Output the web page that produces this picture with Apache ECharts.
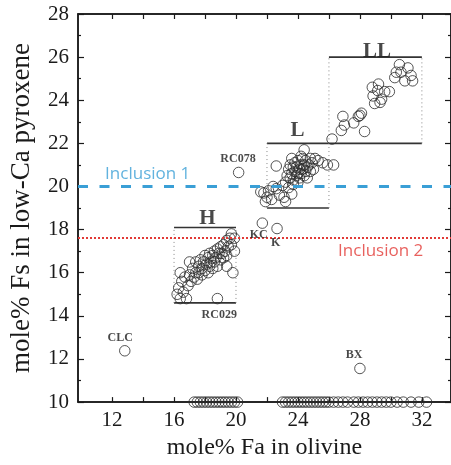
<!DOCTYPE html>
<html><head><meta charset="utf-8">
<script src="https://cdn.jsdelivr.net/npm/echarts@6/dist/echarts.min.js"></script>
<style>html,body{margin:0;padding:0;background:#fff}#c{width:451px;height:465px}</style>
</head><body><div id="c"></div>
<script>
// ---- data (mole% Fa in olivine, mole% Fs in low-Ca pyroxene) ----
const hPoints = [
 [16.2,15.0],[16.4,14.8],[16.3,15.3],[16.5,15.6],[16.6,15.1],[16.8,14.8],[16.9,15.4],[16.7,15.8],
 [17.0,15.9],[17.1,15.6],[17.2,16.2],[17.3,15.8],[17.4,16.0],[17.4,16.5],[17.5,15.7],[17.6,16.3],
 [17.6,16.0],[17.7,16.6],[17.8,16.2],[17.8,15.9],[17.9,16.5],[18.0,16.8],[18.0,16.1],[18.1,16.4],
 [18.2,16.7],[18.2,16.0],[18.3,16.3],[18.3,16.9],[18.4,16.5],[18.5,16.2],[18.5,16.8],[18.6,17.0],
 [18.6,16.5],[18.7,16.7],[18.8,16.3],[18.8,17.1],[18.9,16.9],[19.0,16.6],[19.0,17.2],[19.1,16.9],
 [19.2,17.3],[19.2,16.7],[19.3,17.0],[19.4,17.5],[19.4,16.8],[19.5,17.2],[19.6,17.6],[19.7,17.3],
 [19.7,17.8],[19.9,17.6],[19.9,17.0],[19.8,16.0],[19.4,16.3],[18.8,14.8],[16.4,16.0],[17.0,16.5]
];
const lPoints = [
 [22.6,20.95],
 [23.3,20.5],[23.4,20.8],[23.5,20.4],[23.5,21.0],[23.6,20.6],[23.7,20.9],[23.7,20.3],[23.8,20.7],
 [23.8,21.1],[23.9,20.5],[23.9,20.9],[24.0,20.6],[24.0,21.2],[24.1,20.8],[24.1,20.4],[24.2,21.0],
 [24.2,20.6],[24.3,20.8],[24.3,21.3],[24.4,20.5],[24.4,21.0],[24.5,20.7],[24.5,21.2],[24.6,20.9],
 [24.6,20.4],[24.7,21.0],[24.8,20.7],[24.8,21.3],[23.6,21.3],[24.0,20.2],[24.2,21.4],[24.4,21.7],
 [24.9,21.1],[25.0,20.8],[23.2,20.2],
 [25.3,21.2],[25.6,21.1],[25.9,21.0],[26.3,21.0],[25.1,21.3],
 [21.6,19.75],[21.8,19.7],[22.1,19.8],[22.0,19.5],[21.9,19.3],[22.4,20.0],[22.6,19.9],[23.0,20.05],
 [23.4,19.95],[23.7,20.1],[23.1,19.5],[23.2,19.3],[23.6,19.65],[22.8,19.6],[22.3,19.4]
];
const llPoints = [
 [26.2,22.2],[26.8,22.6],[27.0,22.85],[26.9,23.25],[27.6,22.95],[27.9,23.25],[28.0,23.3],[28.1,23.4],
 [28.3,22.55],[28.85,24.2],[28.8,24.6],[29.2,24.75],[29.15,24.45],[29.4,24.05],[29.6,24.4],[29.9,24.4],
 [28.95,23.85],[29.3,23.9],[30.55,25.65],[30.65,25.3],[30.35,25.3],[31.1,25.5],[31.3,25.15],[31.4,24.9],
 [30.9,24.9],[30.25,25.05]
];
const otherPoints = [[20.17,20.65],[21.7,18.3],[22.65,18.05],[12.82,12.38],[28.0,11.56]];
// olivine-only analyses plotted on the 10% baseline
const baselineFa = [17.3,17.5,17.7,17.9,18.1,18.3,18.5,18.7,18.9,19.1,19.3,19.5,19.7,19.9,20.1,
 23.0,23.2,23.4,23.6,23.8,24.0,24.2,24.4,24.6,24.8,25.0,25.2,25.4,25.6,25.8,26.0,26.3,26.6,26.9,
 27.2,27.6,27.9,28.2,28.5,28.8,29.1,29.4,29.7,30.0,30.4,30.8,31.3,31.8,32.3];
const baselineFs = 10;

// group boxes: [name, faMin, faMax, fsMin, fsMax]
const boxes = [['H',16,20,14.6,18.1],['L',22,26,19,22],['LL',26,32,22,26]];
const groupLabels = [['H',18.15,18.5],['L',23.97,22.6],['LL',29.1,26.25]];
const sampleLabels = [['RC078',20.13,21.3],['KC',21.47,17.77],['K',22.56,17.4],['RC029',18.92,14.03],['CLC',12.52,12.98],['BX',27.62,12.18]];
const inclusionLevels = [['Inclusion 1',20.0,14.3,20.56],['Inclusion 2',17.6,29.34,17.02]];

const xTicks = [12,14,16,18,20,22,24,26,28,30,32];
const xTickLabels = [12,16,20,24,28,32];
const yMin = 10, yMax = 28, yStep = 2;

// ---- chart ----
const serif = '"Liberation Serif", "Times New Roman", serif';
const ink = '#1a1a1a';
const circle = {symbol:'circle', symbolSize:10.5, itemStyle:{color:'rgba(0,0,0,0)', borderColor:'#2a2a2a', borderWidth:1}};
const series = [];

boxes.forEach(b => {
  const [n,x0,x1,y0,y1] = b;
  [[[x0,y1],[x1,y1]],[[x0,y0],[x1,y0]]].forEach(seg => series.push({type:'line', data:seg, symbol:'none', silent:true,
     lineStyle:{color:'#333', width:1.6}, z:2}));
  [[[x0,y0],[x0,y1]],[[x1,y0],[x1,y1]]].forEach(seg => series.push({type:'line', data:seg, symbol:'none', silent:true,
     lineStyle:{color:'#888', width:1, type:[1,3]}, z:2}));
});

series.push(Object.assign({type:'scatter', data:hPoints.concat(lPoints, llPoints, otherPoints), z:3}, circle));
series.push(Object.assign({type:'scatter', data:baselineFa.map(x=>[x,baselineFs]), clip:false, z:3}, circle));

series.push({type:'line', data:[], markLine:{silent:true, symbol:'none', label:{show:false},
  data:[
   {yAxis:inclusionLevels[0][1], lineStyle:{color:'#3a9fd6', width:3, type:[10,11.5]}},
   {yAxis:inclusionLevels[1][1], lineStyle:{color:'#e23a36', width:2, type:[2,2]}}
  ]}});

const textItems = [];
groupLabels.forEach(g => textItems.push({value:[g[1],g[2]], name:g[0],
  label:{fontFamily:serif, fontWeight:'bold', fontSize:21, color:ink}}));
sampleLabels.forEach(s => textItems.push({value:[s[1],s[2]], name:s[0],
  label:{fontFamily:serif, fontWeight:'bold', fontSize:12, color:ink}}));
textItems.push({value:[inclusionLevels[0][2],inclusionLevels[0][3]], name:inclusionLevels[0][0],
  label:{fontFamily:'"Open Sans", sans-serif', fontSize:17, color:'#3a9fd6'}});
textItems.push({value:[inclusionLevels[1][2],inclusionLevels[1][3]], name:inclusionLevels[1][0],
  label:{fontFamily:'"Open Sans", sans-serif', fontSize:17, color:'#e23a36'}});
series.push({type:'scatter', data:textItems, symbolSize:0, silent:true, z:5,
  label:{show:true, position:'inside', formatter:'{b}'}});

function xAxisCfg(pos, extra) {
  return Object.assign({type:'value', show:true, position:pos, min:9.8, max:33.88, splitLine:{show:false},
    axisLine:{show:true, onZero:false, lineStyle:{color:ink, width:1.5}},
    axisTick:{show:true, inside:true, length:5, lineStyle:{color:ink, width:1.2}, customValues:xTicks}}, extra);
}
function yAxisCfg(pos, extra) {
  return Object.assign({type:'value', show:true, position:pos, min:yMin, max:yMax, interval:yStep, splitLine:{show:false},
    axisLine:{show:true, onZero:false, lineStyle:{color:ink, width:1.5}},
    axisTick:{show:true, inside:true, length:6, lineStyle:{color:ink, width:1.2}},
    minorTick:{show:true, splitNumber:2, length:3, lineStyle:{color:ink, width:1.2}}}, extra);
}

const option = {
  animation:false,
  backgroundColor:'#fff',
  grid:{left:76, right:-1, top:14, bottom:57, show:true, borderColor:ink, borderWidth:1.5, backgroundColor:'rgba(0,0,0,0)'},
  xAxis:[
    xAxisCfg('bottom', {name:'mole% Fa in olivine', nameLocation:'middle', nameGap:24,
      nameTextStyle:{fontFamily:serif, fontSize:24, color:ink},
      axisLabel:{customValues:xTickLabels, fontFamily:serif, fontSize:21, color:ink, margin:8}}),
    xAxisCfg('top', {axisLabel:{show:false}})
  ],
  yAxis:[
    yAxisCfg('left', {name:'mole% Fs in low-Ca pyroxene', nameLocation:'middle', nameGap:43,
      nameTextStyle:{fontFamily:serif, fontSize:27, color:ink},
      axisLabel:{fontFamily:serif, fontSize:21, color:ink, margin:9}}),
    yAxisCfg('right', {axisLabel:{show:false}})
  ],
  series:series
};
const chart = echarts.init(document.getElementById('c'), null, {renderer:'canvas'});
chart.setOption(option);
</script></body></html>
